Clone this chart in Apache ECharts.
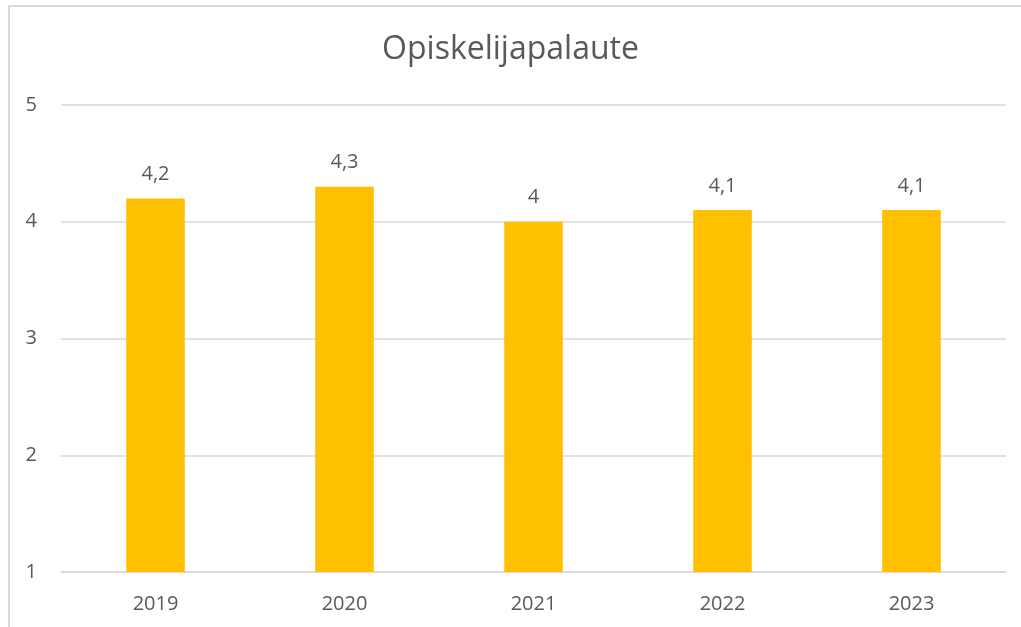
<!DOCTYPE html>
<html>
<head>
<meta charset="utf-8">
<script src="https://cdn.jsdelivr.net/npm/echarts@6/dist/echarts.min.js"></script>
<style>
  html, body { margin: 0; padding: 0; background: #fff; overflow: hidden; }
  #frame {
    position: absolute; left: 8px; top: 5px; width: 1100px; height: 700px;
    border: 2px solid #d9d9d9;
  }
  #chart { position: absolute; left: 0; top: 0; width: 1021px; height: 627px; }
</style>
</head>
<body>
<div id="frame"></div>
<div id="chart"></div>
<script>
const years = ["2019", "2020", "2021", "2022", "2023"];
const scores = [4.2, 4.3, 4.0, 4.1, 4.1];
const yTicks = { min: 1, max: 5, step: 1 };

const fontFam = "'Open Sans', 'Noto Sans', sans-serif";
const textColor = "#595959";

const chart = echarts.init(document.getElementById("chart"));
chart.setOption({
  animation: false,
  title: {
    text: "Opiskelijapalaute",
    left: "center",
    top: 29,
    textStyle: { fontFamily: fontFam, fontSize: 32, fontWeight: "normal", color: textColor }
  },
  grid: { left: 61, right: 15, top: 105, bottom: 55, containLabel: false },
  xAxis: {
    type: "category",
    data: years,
    axisLine: { show: true, lineStyle: { color: "#d9d9d9", width: 1.5 } },
    axisTick: { show: false },
    axisLabel: { fontFamily: fontFam, fontSize: 20, color: textColor, margin: 22 }
  },
  yAxis: {
    type: "value",
    min: yTicks.min,
    max: yTicks.max,
    interval: yTicks.step,
    axisLine: { show: false },
    axisTick: { show: false },
    splitLine: { lineStyle: { color: "#d9d9d9", width: 1.5 } },
    axisLabel: { fontFamily: fontFam, fontSize: 20, color: textColor, margin: 24 }
  },
  series: [{
    type: "bar",
    data: scores,
    barWidth: "31%",
    itemStyle: { color: "#FFC000" },
    label: {
      show: true,
      position: "top",
      distance: 14,
      fontFamily: fontFam,
      fontSize: 20,
      color: textColor,
      formatter: p => String(p.value).replace(".", ",")
    }
  }]
});
</script>
</body>
</html>
